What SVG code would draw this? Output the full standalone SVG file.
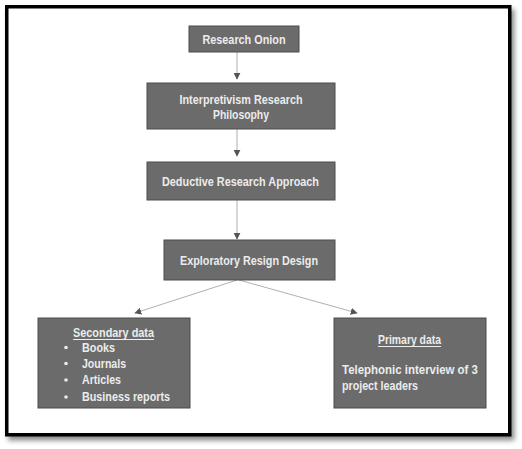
<svg xmlns="http://www.w3.org/2000/svg" width="522" height="449" viewBox="0 0 522 449">
<style>
.box{fill:#6b6b6b;stroke:#4d4d4d;stroke-width:1}
.t{font-family:"Liberation Sans",Arial,sans-serif;font-weight:bold;font-size:12px;fill:#ececec}
.c{text-anchor:middle}
.ln{stroke:#b0b0b0;stroke-width:1;fill:none}
</style>
<defs>
<marker id="ah" viewBox="0 0 10 10" refX="9" refY="5" markerWidth="7" markerHeight="7" orient="auto" markerUnits="userSpaceOnUse">
<path d="M0,0 L10,5 L0,10 z" fill="#555"/>
</marker>
<filter id="sh" x="-5%" y="-5%" width="115%" height="115%">
<feDropShadow dx="3" dy="4" stdDeviation="2.5" flood-color="#000" flood-opacity="0.45"/>
</filter>
</defs>
<rect x="0" y="0" width="522" height="449" fill="#fff"/>
<rect x="6.75" y="6.75" width="503" height="428" fill="#fff" stroke="#000" stroke-width="3.5" filter="url(#sh)"/>
<g id="connectors">
<line class="ln" x1="237" y1="52" x2="237" y2="79" marker-end="url(#ah)"/>
<line class="ln" x1="237" y1="129" x2="237" y2="156" marker-end="url(#ah)"/>
<line class="ln" x1="237" y1="200" x2="237" y2="239" marker-end="url(#ah)"/>
<line class="ln" x1="237" y1="280" x2="135" y2="313" marker-end="url(#ah)"/>
<line class="ln" x1="239" y1="280" x2="357" y2="313" marker-end="url(#ah)"/>
</g>
<g id="onion">
<rect class="box" x="189" y="26" width="110" height="26"/>
<text class="t c" x="244" y="43.5" textLength="83" lengthAdjust="spacingAndGlyphs">Research Onion</text>
</g>
<g id="philosophy">
<rect class="box" x="147" y="83" width="188" height="46"/>
<text class="t c" x="241" y="103.5" textLength="123" lengthAdjust="spacingAndGlyphs">Interpretivism Research</text>
<text class="t c" x="241" y="118.5" textLength="56" lengthAdjust="spacingAndGlyphs">Philosophy</text>
</g>
<g id="approach">
<rect class="box" x="147" y="162" width="188" height="38"/>
<text class="t c" x="240.5" y="186" textLength="157" lengthAdjust="spacingAndGlyphs">Deductive Research Approach</text>
</g>
<g id="design">
<rect class="box" x="164" y="240" width="171" height="40"/>
<text class="t c" x="249" y="265" textLength="138" lengthAdjust="spacingAndGlyphs">Exploratory Resign Design</text>
</g>
<g id="secondary">
<rect class="box" x="38" y="318" width="152" height="90"/>
<text class="t c" x="113.5" y="336.5" textLength="81" lengthAdjust="spacingAndGlyphs">Secondary data</text>
<line x1="73" y1="339.5" x2="154" y2="339.5" stroke="#ececec" stroke-width="1"/>
<circle cx="66" cy="347.5" r="1.8" fill="#ececec"/>
<circle cx="66" cy="363.5" r="1.8" fill="#ececec"/>
<circle cx="66" cy="380" r="1.8" fill="#ececec"/>
<circle cx="66" cy="397" r="1.8" fill="#ececec"/>
<text class="t" x="82" y="352" textLength="33" lengthAdjust="spacingAndGlyphs">Books</text>
<text class="t" x="82" y="368" textLength="44" lengthAdjust="spacingAndGlyphs">Journals</text>
<text class="t" x="82" y="384" textLength="39" lengthAdjust="spacingAndGlyphs">Articles</text>
<text class="t" x="82" y="400.5" textLength="88" lengthAdjust="spacingAndGlyphs">Business reports</text>
</g>
<g id="primary">
<rect class="box" x="334" y="318" width="152" height="90"/>
<text class="t c" x="409.5" y="344" textLength="63" lengthAdjust="spacingAndGlyphs">Primary data</text>
<line x1="378" y1="346.5" x2="441" y2="346.5" stroke="#ececec" stroke-width="1"/>
<text class="t" x="342" y="374" textLength="136" lengthAdjust="spacingAndGlyphs">Telephonic interview of 3</text>
<text class="t" x="342" y="390" textLength="76" lengthAdjust="spacingAndGlyphs">project leaders</text>
</g>
</svg>
